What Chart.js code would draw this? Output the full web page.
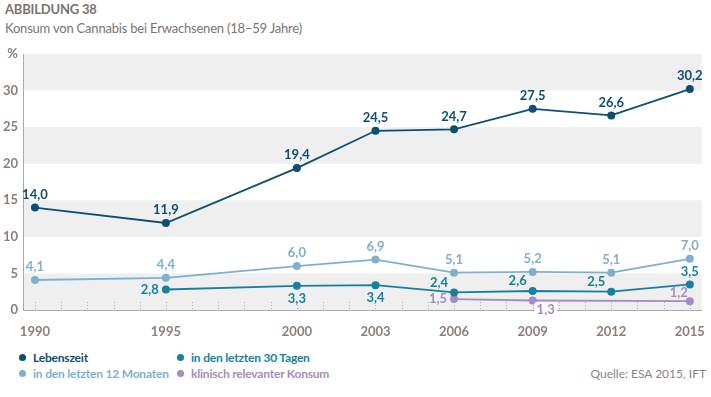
<!DOCTYPE html>
<html>
<head>
<meta charset="utf-8">
<script src="https://cdn.jsdelivr.net/npm/chart.js@4"></script>
<style>
  body { margin: 0; width: 711px; height: 397px; background: #fff; font-family: Lato, sans-serif; position: relative; overflow: hidden; }
  .head { position: absolute; left: 5px; color: #7a7370; font-size: 13px; letter-spacing: -0.2px; }
  #t1 { top: 1px; font-weight: bold; }
  #t2 { top: 20px; }
  #wrap { position: absolute; left: 0; top: 0; width: 711px; height: 340px; }
  .leg { position: absolute; font-size: 12px; font-weight: bold; white-space: nowrap; letter-spacing: -0.2px; }
  .leg span { display: inline-block; width: 7px; height: 7px; border-radius: 50%; margin-right: 7px; vertical-align: 1px; }
  #src { position: absolute; right: 5px; top: 366px; font-size: 12px; color: #8a8380; }
</style>
</head>
<body>
<div class="head" id="t1">ABBILDUNG 38</div>
<div class="head" id="t2">Konsum von Cannabis bei Erwachsenen (18–59 Jahre)</div>
<div id="wrap"><canvas id="c"></canvas></div>
<div class="leg" style="left:19px;top:350px;color:#0c4f72"><span style="background:#0c4f72"></span>Lebenszeit</div>
<div class="leg" style="left:177px;top:350px;color:#17809f"><span style="background:#17809f"></span>in den letzten 30 Tagen</div>
<div class="leg" style="left:19px;top:366px;color:#7eb0cc"><span style="background:#7eb0cc"></span>in den letzten 12 Monaten</div>
<div class="leg" style="left:177px;top:366px;color:#a58bc1"><span style="background:#a58bc1"></span>klinisch relevanter Konsum</div>
<div id="src">Quelle: ESA 2015, IFT</div>
<script>
const years = [1990, 1995, 2000, 2003, 2006, 2009, 2012, 2015]
const lebenszeit = [14.0, 11.9, 19.4, 24.5, 24.7, 27.5, 26.6, 30.2]
const monate12 = [4.1, 4.4, 6.0, 6.9, 5.1, 5.2, 5.1, 7.0]
const tage30 = [null, 2.8, 3.3, 3.4, 2.4, 2.6, 2.5, 3.5]
const klinischYears = [2006, 2009, 2015]
const klinisch = [1.5, 1.3, 1.2]
const yTicks = [0, 5, 10, 15, 20, 25, 30, 35]

// where each value label sits relative to its point
const posLeben = ['top', 'top', 'top', 'top', 'top', 'top', 'top', 'top']
const pos12 = ['top', 'top', 'top', 'top', 'top', 'top', 'top', 'top']
const pos30 = [null, 'left', 'below', 'below', 'topleft', 'topleft', 'topleft', 'top']
const posKlin = ['left', 'belowright', 'topleft']

const dark = '#0c4f72'
const mid = '#17809f'
const light = '#7eb0cc'
const purple = '#a58bc1'
const tickColor = '#8a7f7a'

const toPoints = (xs, ys) => xs.map((x, i) => ({ x, y: ys[i] })).filter(p => p.y !== null)

const series = (label, xs, ys, color, pos, width) => ({
    label,
    data: toPoints(xs, ys),
    borderColor: color,
    backgroundColor: color,
    pointBackgroundColor: color,
    pointBorderWidth: 0,
    pointRadius: 4,
    borderWidth: width,
    tension: 0,
    labelPos: pos.filter((p, i) => ys[i] !== null)
})

const bands = {
    id: 'bands',
    beforeDatasetsDraw(chart) {
        const { ctx, chartArea, scales } = chart
        const y = scales.y
        const x = scales.x
        ctx.save()
        ctx.fillStyle = '#efefef'
        for (let v = 0; v < 35; v += 10) {
            const top = y.getPixelForValue(v + 5)
            const bot = y.getPixelForValue(v)
            ctx.fillRect(chartArea.left + 1, top, chartArea.right - chartArea.left - 1, bot - top)
        }
        // small dotted year ticks
        ctx.strokeStyle = '#aaa'
        ctx.lineWidth = 1
        ctx.setLineDash([1, 2])
        const base = y.getPixelForValue(0)
        for (let yr = 1990; yr <= 2015; yr++) {
            const px = Math.round(x.getPixelForValue(yr)) + 0.5
            ctx.beginPath()
            ctx.moveTo(px, base - 8)
            ctx.lineTo(px, base - 1)
            ctx.stroke()
        }
        ctx.restore()
    }
}

const valueLabels = {
    id: 'valueLabels',
    afterDatasetsDraw(chart) {
        const { ctx } = chart
        ctx.save()
        ctx.font = 'bold 13px Lato'
        ctx.textBaseline = 'middle'
        chart.data.datasets.forEach((ds, di) => {
            const meta = chart.getDatasetMeta(di)
            meta.data.forEach((pt, i) => {
                const text = ds.data[i].y.toFixed(1).replace('.', ',')
                const pos = ds.labelPos[i]
                let dx = 0, dy = -13, align = 'center'
                if (pos === 'left') { dx = -7; dy = 0; align = 'right' }
                if (pos === 'below') { dy = 13 }
                if (pos === 'topleft') { dx = -15; dy = -10 }
                if (pos === 'belowright') { dx = 13; dy = 9 }
                if (pos === 'topleft' && ds.label.startsWith('klinisch')) { dx = -11; dy = -8 }
                ctx.textAlign = align
                if (pos === 'belowright') {
                    const w = ctx.measureText(text).width
                    ctx.fillStyle = '#fff'
                    ctx.fillRect(pt.x + dx - w / 2 - 2, pt.y + dy - 7, w + 4, 14)
                }
                ctx.fillStyle = ds.borderColor
                ctx.fillText(text, pt.x + dx, pt.y + dy)
            })
        })
        ctx.restore()
    }
}

new Chart(document.getElementById('c'), {
    type: 'line',
    data: {
        datasets: [
            series('Lebenszeit', years, lebenszeit, dark, posLeben, 1.8),
            series('in den letzten 12 Monaten', years, monate12, light, pos12, 1.8),
            series('in den letzten 30 Tagen', years, tage30, mid, pos30, 1.8),
            series('klinisch relevanter Konsum', klinischYears, klinisch, purple, posKlin, 1.8)
        ]
    },
    options: {
        responsive: true,
        maintainAspectRatio: false,
        animation: false,
        layout: { padding: { top: 54, right: 5, left: 0, bottom: 0 } },
        plugins: {
            legend: { display: false },
            tooltip: { enabled: false }
        },
        scales: {
            x: {
                type: 'linear',
                min: 1989.545,
                max: 2015.455,
                afterBuildTicks: (axis) => { axis.ticks = years.map(value => ({ value })) },
                afterFit: (axis) => { axis.height = 30 },
                grid: { display: false },
                border: { display: true, color: '#aaa', dash: [1, 2] },
                ticks: {
                    color: tickColor,
                    padding: 6,
                    maxRotation: 0,
                    autoSkip: false,
                    font: { family: 'Lato', weight: 'bold', size: 13 },
                    callback: (v) => String(v)
                }
            },
            y: {
                min: 0,
                max: 35,
                afterBuildTicks: (axis) => { axis.ticks = yTicks.map(value => ({ value })) },
                afterFit: (axis) => { axis.width = 23 },
                grid: {
                    drawTicks: false,
                    color: (c) => c.tick && c.tick.value === 35 ? '#aaa' : 'transparent',
                    borderDash: [1, 2]
                },
                border: { display: true, color: '#aaa', dash: [1, 2] },
                ticks: {
                    color: tickColor,
                    padding: 5,
                    font: { family: 'Lato', weight: 'bold', size: 13 },
                    callback: (v) => v === 35 ? '%' : String(v)
                }
            }
        }
    },
    plugins: [bands, valueLabels]
})
</script>
</body>
</html>
